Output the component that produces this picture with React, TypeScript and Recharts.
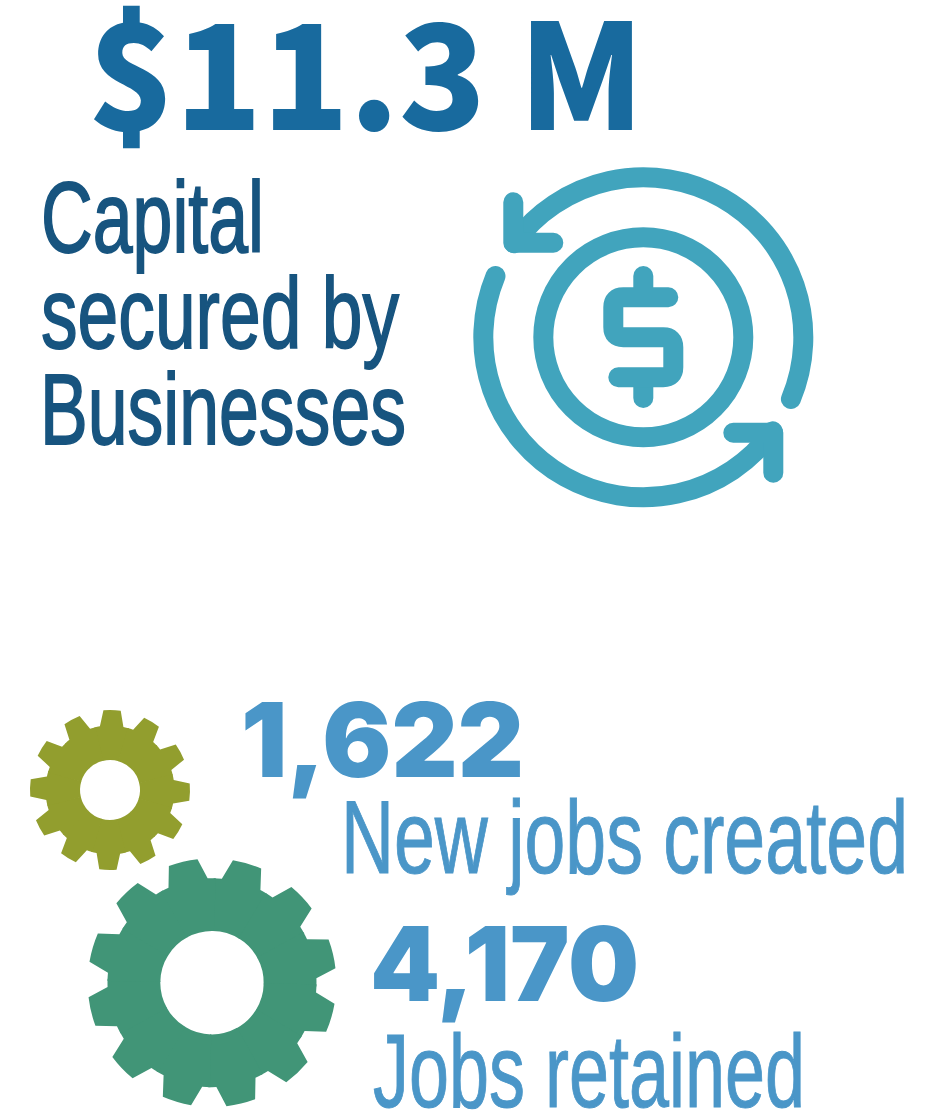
import React from "react";
import { PieChart, Pie, Customized } from "recharts";

const capitalValue = ["$11.3 M"];
const capitalLabel = ["Capital", "secured by", "Businesses"];
const jobValues = ["1,622", "4,170"];
const jobLabels = ["New jobs created", "Jobs retained"];
const smallTeeth = [1, 1, 1, 1, 1, 1, 1, 1, 1, 1, 1, 1].map((value, i) => ({ name: `s${i}`, value }));
const largeTeeth = [1, 1, 1, 1, 1, 1, 1, 1, 1, 1, 1, 1].map((value, i) => ({ name: `l${i}`, value }));

const BLUE_DARK = "#186a9e";
const NAVY = "#17547f";
const BLUE = "#4a96c8";
const TEAL = "#41a4bd";
const OLIVE = "#929e2e";
const GREEN = "#419577";

const pt = (cx: number, cy: number, r: number, deg: number) => {
  const a = (deg * Math.PI) / 180;
  return `${(cx + r * Math.cos(a)).toFixed(2)} ${(cy - r * Math.sin(a)).toFixed(2)}`;
};

const gearShape = (rootR: number, tipHalf: number, baseHalf: number, fill: string) => (props: any) => {
  const { cx, cy, innerRadius, outerRadius, startAngle, endAngle } = props;
  const lo = Math.min(startAngle, endAngle) - 0.6;
  const hi = Math.max(startAngle, endAngle) + 0.6;
  const mid = (lo + hi) / 2;
  const d = [
    `M ${pt(cx, cy, innerRadius, lo)}`,
    `L ${pt(cx, cy, rootR, lo)}`,
    `A ${rootR} ${rootR} 0 0 0 ${pt(cx, cy, rootR, mid - baseHalf)}`,
    `L ${pt(cx, cy, outerRadius, mid - tipHalf)}`,
    `A ${outerRadius} ${outerRadius} 0 0 0 ${pt(cx, cy, outerRadius, mid + tipHalf)}`,
    `L ${pt(cx, cy, rootR, mid + baseHalf)}`,
    `A ${rootR} ${rootR} 0 0 0 ${pt(cx, cy, rootR, hi)}`,
    `L ${pt(cx, cy, innerRadius, hi)}`,
    `A ${innerRadius} ${innerRadius} 0 0 1 ${pt(cx, cy, innerRadius, lo)}`,
    "Z",
  ].join(" ");
  return <path d={d} fill={fill} stroke="none" />;
};

const Overlay = () => {
  const cx = 643.3;
  const cy = 337.3;
  const head = { fontFamily: "'Noto Sans CJK SC'", fontWeight: 900 };
  const navy = { fontFamily: "'Liberation Sans'", fontSize: 101, fill: NAVY, stroke: NAVY, strokeWidth: 1.8 };
  const blue = { fontFamily: "'Liberation Sans'", fontSize: 103, fill: BLUE, stroke: BLUE, strokeWidth: 1 };
  const heavy = { fontFamily: "Inter", fontWeight: 900 };
  const fit = { lengthAdjust: "spacingAndGlyphs" as const };
  return (
    <g>
      <text x={88} y={130} fontSize={146} fill={BLUE_DARK} textLength={556} {...fit} {...head}>{capitalValue[0]}</text>
      <text x={41} y={252} textLength={223} {...fit} {...navy}>{capitalLabel[0]}</text>
      <text x={41} y={348} textLength={358} {...fit} {...navy}>{capitalLabel[1]}</text>
      <text x={40} y={444} textLength={366} {...fit} {...navy}>{capitalLabel[2]}</text>
      <text x={241} y={777} fontSize={103} fill={BLUE} textLength={283} {...fit} {...heavy}>{jobValues[0]}</text>
      <text x={341} y={872.5} textLength={567} {...fit} {...blue}>{jobLabels[0]}</text>
      <text x={370} y={1001} fontSize={103} fill={BLUE} textLength={269} {...fit} {...heavy}>{jobValues[1]}</text>
      <text x={373} y={1107} textLength={432} {...fit} {...blue}>{jobLabels[1]}</text>
      <g fill="none" stroke={TEAL} strokeWidth={20} strokeLinecap="round" strokeLinejoin="round">
        <circle cx={cx} cy={cy} r={100} />
        <path d={`M ${pt(cx, cy, 160, 144)} A 160 160 0 0 1 ${pt(cx, cy, 160, -22.7)}`} />
        <path d={`M ${pt(cx, cy, 160, 157.5)} A 160 160 0 0 0 ${pt(cx, cy, 160, -36)}`} />
        <path d="M 513.3 202.3 L 513.3 242.7 L 553.3 242.7" />
        <path d="M 733.3 432.7 L 773.3 432.7 L 773.3 472.7" />
        <path d={`M ${cx} 276 L ${cx} 297`} />
        <path d={`M ${cx} 378 L ${cx} 398`} />
        <path d="M 668.3 297.3 L 623.3 297.3 Q 613.3 297.3 613.3 307.3 L 613.3 327.3 Q 613.3 337.3 623.3 337.3 L 663.3 337.3 Q 673.3 337.3 673.3 347.3 L 673.3 367.3 Q 673.3 377.3 663.3 377.3 L 618.3 377.3" />
      </g>
    </g>
  );
};

export default function App() {
  return (
    <div style={{ position: "absolute", left: 0, top: 0, width: 938, height: 1113, background: "#fff" }}>
      <PieChart width={938} height={1113} margin={{ top: 0, right: 0, bottom: 0, left: 0 }}>
        <Pie
          data={smallTeeth}
          dataKey="value"
          cx={110}
          cy={790}
          innerRadius={30}
          outerRadius={80}
          startAngle={103.5}
          endAngle={-256.5}
          stroke="none"
          isAnimationActive={false}
          shape={gearShape(64.5, 6.2, 10.5, OLIVE)}
        />
        <Pie
          data={largeTeeth}
          dataKey="value"
          cx={212}
          cy={982.7}
          innerRadius={51.7}
          outerRadius={124.3}
          startAngle={88.5}
          endAngle={-271.5}
          stroke="none"
          isAnimationActive={false}
          shape={gearShape(104.5, 6.8, 11.1, GREEN)}
        />
        <Customized component={<Overlay />} />
      </PieChart>
    </div>
  );
}
